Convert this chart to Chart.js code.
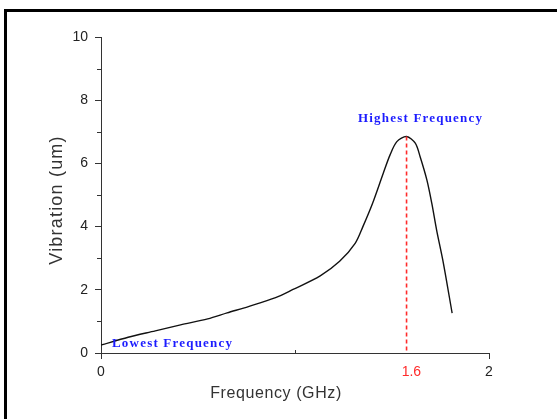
<!DOCTYPE html>
<html>
<head>
<meta charset="utf-8">
<script src="https://cdn.jsdelivr.net/npm/chart.js@4"></script>
<style>
html, body { margin: 0; padding: 0; background: #fff; }
#wrap { width: 557px; height: 419px; }
</style>
</head>
<body>
<div id="wrap"><canvas id="myChart"></canvas></div>
<script>
// Data
const freq = [0, 0.14, 0.28, 0.41, 0.55, 0.65, 0.76, 0.9, 0.99, 1.13, 1.23, 1.31, 1.35, 1.4, 1.455, 1.49, 1.525, 1.575, 1.62, 1.645, 1.68, 1.705, 1.73, 1.765, 1.81];
const vibration = [0.25, 0.5, 0.7, 0.89, 1.08, 1.27, 1.47, 1.75, 2.01, 2.44, 2.9, 3.47, 4.0, 4.74, 5.69, 6.27, 6.69, 6.85, 6.64, 6.21, 5.47, 4.74, 3.89, 2.84, 1.26];
const xTicks = [0, 1, 1.6, 2];
const xTickLabels = ["0", "", "1.6", "2"];
const yMinorTicks = [1, 3, 5, 7, 9];
const xMinorTicks = [1];
const xTitle = "Frequency (GHz)";
const yTitle = "Vibration (um)";
const highLabel = "Highest Frequency";
const lowLabel = "Lowest Frequency";

const RED = "#ff2b2b";
const BLUE = "#1c1cff";

const points = freq.map((f, i) => ({ x: f, y: vibration[i] }));

// extra drawing: minor ticks, peak marker, notes, axis titles, frame
const extras = {
  id: "extras",
  afterDatasetsDraw(chart) {
    const ctx = chart.ctx;
    const xs = chart.scales.x, ys = chart.scales.y;
    const bottom = chart.chartArea.bottom, left = chart.chartArea.left;

    ctx.save();
    ctx.strokeStyle = "#333";
    ctx.lineWidth = 1;
    for (const v of yMinorTicks) {
      const py = Math.round(ys.getPixelForValue(v)) + 0.5;
      ctx.beginPath(); ctx.moveTo(left - 4, py); ctx.lineTo(left, py); ctx.stroke();
    }
    for (const v of xMinorTicks) {
      const px = Math.round(xs.getPixelForValue(v)) + 0.5;
      ctx.beginPath(); ctx.moveTo(px, bottom); ctx.lineTo(px, bottom - 3); ctx.stroke();
    }

    // peak
    let iMax = 0;
    vibration.forEach((v, i) => { if (v > vibration[iMax]) iMax = i; });
    const pkx = xs.getPixelForValue(freq[iMax]);
    const pky = ys.getPixelForValue(vibration[iMax]);
    ctx.strokeStyle = RED;
    ctx.lineWidth = 1.6;
    ctx.setLineDash([4, 3]);
    ctx.beginPath(); ctx.moveTo(pkx, pky); ctx.lineTo(pkx, bottom); ctx.stroke();
    ctx.setLineDash([]);

    ctx.fillStyle = BLUE;
    ctx.font = "bold 13px 'Liberation Serif'";
    ctx.letterSpacing = "1.2px";
    ctx.textBaseline = "middle";
    ctx.textAlign = "center";
    ctx.fillText(highLabel, pkx + 14, pky - 18);
    const stx = xs.getPixelForValue(freq[0]);
    const sty = ys.getPixelForValue(vibration[0]);
    ctx.textAlign = "left";
    ctx.fillText(lowLabel, stx + 11, sty - 1);
    ctx.restore();
  },
  afterDraw(chart) {
    const ctx = chart.ctx;
    ctx.save();
    ctx.fillStyle = "#333";
    ctx.textAlign = "center";
    ctx.textBaseline = "middle";
    ctx.font = "16px 'Liberation Sans'";
    ctx.letterSpacing = "0.6px";
    ctx.fillText(xTitle, 276, 394);
    ctx.translate(57, 200);
    ctx.rotate(-Math.PI / 2);
    ctx.font = "18px 'Liberation Sans'";
    ctx.letterSpacing = "1.2px";
    ctx.fillText(yTitle, 0, 0);
    ctx.restore();

    ctx.save();
    ctx.fillStyle = "#000";
    ctx.fillRect(4, 9, 553, 3);
    ctx.fillRect(4, 9, 3, 410);
    ctx.restore();
  }
};

const config = {
  type: "line",
  data: {
    datasets: [{
      data: points,
      borderColor: "#111",
      borderWidth: 1.4,
      pointRadius: 0,
      fill: false,
      tension: 0.3
    }]
  },
  options: {
    responsive: true,
    maintainAspectRatio: false,
    animation: false,
    layout: { padding: { top: 37, right: 68, left: 0, bottom: 34 } },
    plugins: { legend: { display: false }, tooltip: { enabled: false } },
    scales: {
      x: {
        type: "linear",
        min: 0,
        max: 2,
        afterBuildTicks: s => { s.ticks = xTicks.map(v => ({ value: v })); },
        afterFit: s => { s.height = 32; },
        ticks: {
          autoSkip: false,
          maxRotation: 0,
          padding: 5,
          font: { family: "Liberation Sans", size: 14 },
          color: c => (c.tick && c.tick.value === 1.6) ? RED : "#222",
          callback: (v, i) => xTickLabels[i]
        },
        grid: {
          display: true,
          drawOnChartArea: false,
          drawTicks: true,
          tickLength: 6,
          tickColor: c => (c.tick && (c.tick.value === 0 || c.tick.value === 2)) ? "#333" : "rgba(0,0,0,0)"
        },
        border: { color: "#333", width: 1 }
      },
      y: {
        min: 0,
        max: 10,
        afterFit: s => { s.width = 101; },
        ticks: {
          stepSize: 2,
          padding: 7,
          font: { family: "Liberation Sans", size: 14 },
          color: "#222"
        },
        grid: {
          display: true,
          drawOnChartArea: false,
          drawTicks: true,
          tickLength: 6,
          tickColor: "#333"
        },
        border: { color: "#333", width: 1 }
      }
    }
  },
  plugins: [extras]
};

const myChart = new Chart(document.getElementById("myChart"), config);
</script>
</body>
</html>
